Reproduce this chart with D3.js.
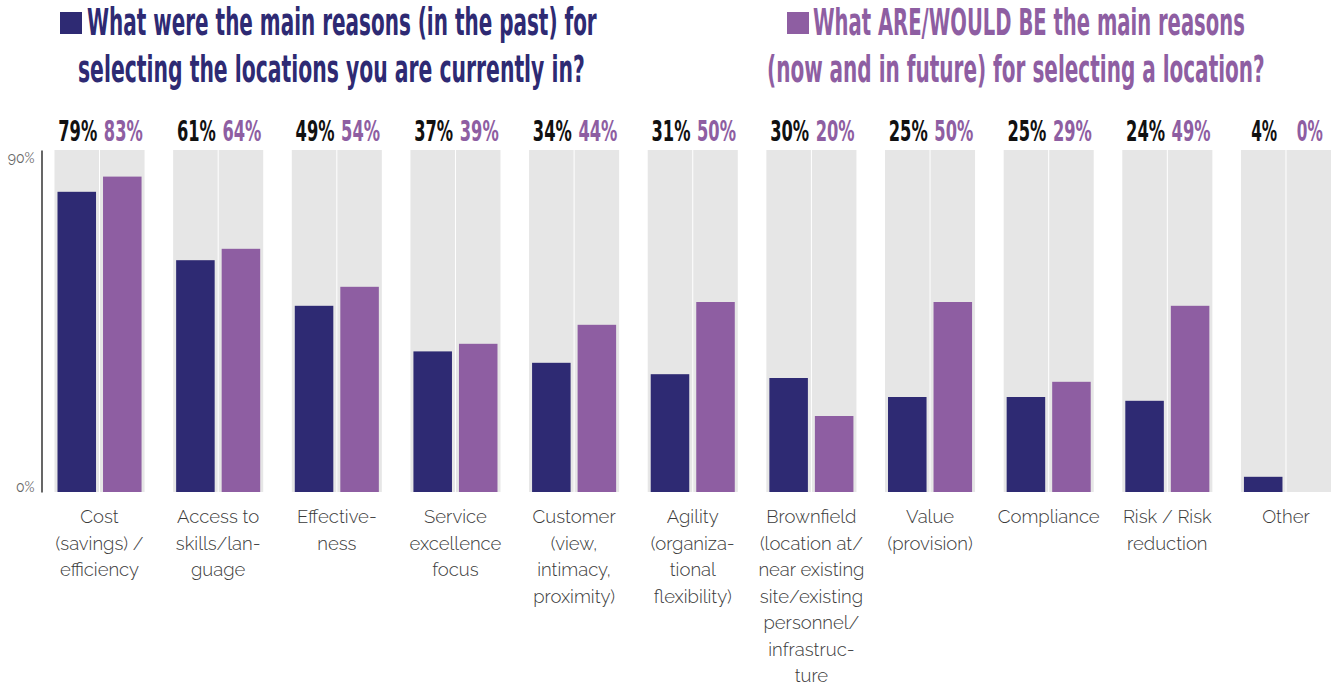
<!DOCTYPE html>
<html>
<head>
<meta charset="utf-8">
<script src="https://cdn.jsdelivr.net/npm/d3@7"></script>
<style>
  html, body { margin: 0; padding: 0; background: #ffffff; }
  svg { display: block; }
</style>
</head>
<body>
<svg id="chart" width="1336" height="687"></svg>
<script>
// ---- data ----
const categories = [
  "Cost", "Access", "Effectiveness", "Service", "Customer", "Agility",
  "Brownfield", "Value", "Compliance", "Risk", "Other"
];
const categoryLines = [
  ["Cost", "(savings) /", "efficiency"],
  ["Access to", "skills/lan-", "guage"],
  ["Effective-", "ness"],
  ["Service", "excellence", "focus"],
  ["Customer", "(view,", "intimacy,", "proximity)"],
  ["Agility", "(organiza-", "tional", "flexibility)"],
  ["Brownfield", "(location at/", "near existing", "site/existing", "personnel/", "infrastruc-", "ture"],
  ["Value", "(provision)"],
  ["Compliance"],
  ["Risk / Risk", "reduction"],
  ["Other"]
];
const pastValues   = [79, 61, 49, 37, 34, 31, 30, 25, 25, 24, 4];
const futureValues = [83, 64, 54, 39, 44, 50, 20, 50, 29, 49, 0];
const seriesKeys = ["past", "future"];
const yTickValues = [0, 90];
const pastTitle   = ["What were the main reasons (in the past) for", "selecting the locations you are currently in?"];
const futureTitle = ["What ARE/WOULD BE the main reasons", "(now and in future) for selecting a location?"];

// ---- styling ----
const NAVY = "#2e2a73";
const PURPLE = "#8e5ea2";
const TRACK = "#e6e6e6";
const seriesColor = { past: NAVY, future: PURPLE };
const labelColor = { past: "#111111", future: PURPLE };
const condensed = "'Liberation Sans Narrow', 'DejaVu Sans Condensed', 'Arial Narrow', sans-serif";
const bodyFont = "Raleway, Lato, 'Open Sans', sans-serif";

const svg = d3.select("#chart");

// Squeeze a text horizontally to a target width (condensed display face).
function fitWidth(sel, x, y, width) {
  sel.each(function () {
    const natural = this.getComputedTextLength() || width;
    d3.select(this).attr("transform", `translate(${x},${y}) scale(${width / natural},1)`);
  });
}

// ---- scales ----
const y = d3.scaleLinear().domain([0, 90]).range([492, 150]);
const x0 = d3.scaleBand().domain(categories).range([54.5, 1331]).paddingInner(0.241).paddingOuter(0);
const x1 = d3.scaleBand().domain(seriesKeys).range([0, x0.bandwidth()]).paddingInner(0.022).paddingOuter(0);
const barInset = 3;

const rows = categories.map((c, i) => ({
  category: c,
  lines: categoryLines[i],
  values: [
    { key: "past", value: pastValues[i] },
    { key: "future", value: futureValues[i] }
  ]
}));

// ---- titles ----
function drawTitle(lines, color, square, firstLine, secondLine) {
  const g = svg.append("g").attr("class", "title");
  g.append("rect")
    .attr("x", square.x).attr("y", square.y)
    .attr("width", square.w).attr("height", square.h)
    .attr("fill", color);
  [firstLine, secondLine].forEach((pos, i) => {
    g.append("text")
      .attr("font-family", condensed)
      .attr("font-weight", "bold")
      .attr("font-size", 37)
      .attr("fill", color)
      .text(lines[i])
      .call(fitWidth, pos.x, pos.y, pos.len);
  });
}
drawTitle(pastTitle, NAVY,
  { x: 60, y: 12, w: 22, h: 22 },
  { x: 87, y: 34.5, len: 510 },
  { x: 78, y: 82, len: 507 });
drawTitle(futureTitle, PURPLE,
  { x: 787, y: 12, w: 22, h: 22 },
  { x: 813, y: 34.5, len: 432 },
  { x: 767, y: 82, len: 498 });

// ---- y axis ----
const yAxis = d3.axisLeft(y).tickValues(yTickValues).tickSize(0).tickSizeOuter(0).tickPadding(7)
  .tickFormat(d => d + "%");
const axisG = svg.append("g")
  .attr("transform", "translate(41.5,0)")
  .call(yAxis);
axisG.select(".domain").attr("stroke", "#000").attr("stroke-width", 1.2);
axisG.selectAll(".tick text")
  .attr("font-family", bodyFont)
  .attr("font-size", 14)
  .attr("fill", "#666666")
  .attr("dy", d => d === 0 ? "-0.05em" : "0.9em");

// ---- groups ----
const groups = svg.append("g").selectAll("g.group")
  .data(rows)
  .join("g")
  .attr("class", "group")
  .attr("transform", d => `translate(${x0(d.category)},0)`);

// background tracks (full 0–90% range)
groups.selectAll("rect.track")
  .data(d => d.values)
  .join("rect")
  .attr("class", "track")
  .attr("x", d => x1(d.key))
  .attr("y", y(90))
  .attr("width", x1.bandwidth())
  .attr("height", y(0) - y(90))
  .attr("fill", TRACK);

// value bars
groups.selectAll("rect.bar")
  .data(d => d.values)
  .join("rect")
  .attr("class", "bar")
  .attr("x", d => x1(d.key) + barInset)
  .attr("y", d => y(d.value))
  .attr("width", x1.bandwidth() - 2 * barInset)
  .attr("height", d => y(0) - y(d.value))
  .attr("fill", d => seriesColor[d.key]);

// value labels above the tracks
groups.selectAll("text.value")
  .data(d => d.values)
  .join("text")
  .attr("class", "value")
  .attr("text-anchor", "middle")
  .attr("font-family", condensed)
  .attr("font-weight", "bold")
  .attr("font-size", 28)
  .attr("fill", d => labelColor[d.key])
  .text(d => d.value + "%")
  .each(function (d) {
    const natural = this.getComputedTextLength();
    const target = (d.value + "%").length * 13;
    const cx = x1(d.key) + x1.bandwidth() / 2 + 1;
    d3.select(this).attr("transform", `translate(${cx},140.5) scale(${target / natural},1)`);
  });

// category labels below the axis
groups.append("text")
  .attr("class", "category")
  .attr("text-anchor", "middle")
  .attr("font-family", bodyFont)
  .attr("font-weight", 300)
  .attr("font-size", 18.5)
  .attr("fill", "#3a3a3a")
  .selectAll("tspan")
  .data(d => d.lines)
  .join("tspan")
  .attr("x", x0.bandwidth() / 2)
  .attr("y", (d, i) => 523 + i * 26.5)
  .text(d => d);
</script>
</body>
</html>
